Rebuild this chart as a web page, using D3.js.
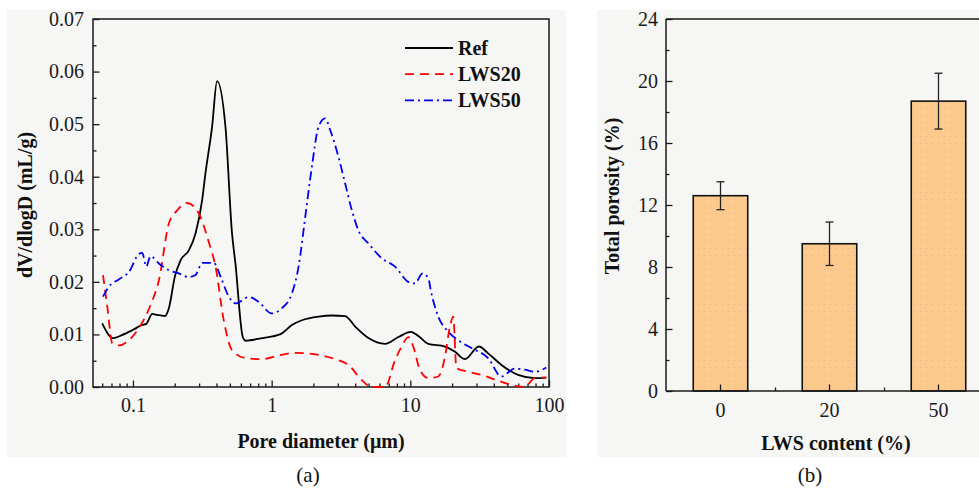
<!DOCTYPE html>
<html>
<head>
<meta charset="utf-8">
<script src="https://cdn.jsdelivr.net/npm/d3@7"></script>
<style>
  html, body { margin: 0; padding: 0; background: #ffffff; }
  svg { display: block; font-family: "Liberation Serif", "Times New Roman", serif; }
</style>
</head>
<body>
<svg id="chart" width="979" height="492"></svg>
<script>
// ---- Panel (a): pore size distribution, dV/dlogD (mL/g) vs pore diameter (µm) ----
const refDiameter = [0.060, 0.0718, 0.0838, 0.0989, 0.1167, 0.1247, 0.1377, 0.1496, 0.170, 0.1815,
  0.2005, 0.2204, 0.253, 0.2826, 0.3155, 0.333, 0.372, 0.404, 0.4645, 0.518, 0.548, 0.618, 0.647,
  0.851, 0.952, 1.186, 1.40, 1.652, 2.18, 2.716, 3.39, 4.0, 4.99, 6.57, 8.2, 10.1, 11.42, 13.47,
  17.8, 21.0, 24.8, 31.2, 36.4, 45.4, 59.8, 78.9, 95.6];
const refVolume = [0.0121, 0.0093, 0.0099, 0.0108, 0.0118, 0.0120, 0.0139, 0.0137, 0.0135, 0.0150,
  0.0210, 0.0241, 0.0260, 0.0292, 0.0356, 0.0406, 0.0495, 0.0582, 0.0495, 0.0292, 0.0235, 0.0096, 0.0088,
  0.0093, 0.0095, 0.0102, 0.0118, 0.0127, 0.0134, 0.0136, 0.0135, 0.0115, 0.0093, 0.0082, 0.0095, 0.0105, 0.0097, 0.0082,
  0.0077, 0.0067, 0.0053, 0.0077, 0.0064, 0.0042, 0.0023, 0.0017, 0.0018];

const lws20Diameter = [0.0608, 0.0653, 0.071, 0.0794, 0.0936, 0.1104, 0.134, 0.1538, 0.1815, 0.2083,
  0.246, 0.2985, 0.352, 0.394, 0.4515, 0.518, 0.647, 0.851, 1.123, 1.48, 1.95, 2.87, 3.58, 4.47,
  5.27, 6.57, 7.76, 8.66, 9.68, 10.5, 11.75, 13.47, 15.9, 17.8, 19.3, 20.4, 21.5, 26.1, 32.6, 43,
  53.6, 66.8, 78.9, 95.6];
const lws20Volume = [0.0213, 0.0153, 0.0083, 0.0079, 0.0089, 0.0112, 0.0156, 0.0203, 0.0311, 0.0336,
  0.0350, 0.0330, 0.0276, 0.0229, 0.0127, 0.0070, 0.0055, 0.0053, 0.0060, 0.0065, 0.0063, 0.0053, 0.0042, 0.0013,
  0.0000, 0.0000, 0.0051, 0.0077, 0.0095, 0.0077, 0.0032, 0.0017, 0.0020, 0.0058, 0.0115, 0.0134, 0.0036, 0.0029, 0.0023, 0.0012,
  0.0004, 0.0000, 0.0017, 0.0018];

const lws50Diameter = [0.0608, 0.0672, 0.0794, 0.0936, 0.1104, 0.1167, 0.1247, 0.134, 0.1538, 0.1815,
  0.2143, 0.253, 0.2826, 0.3155, 0.383, 0.428, 0.491, 0.548, 0.684, 0.806, 1.0, 1.186, 1.40, 1.564,
  1.748, 1.95, 2.18, 2.43, 2.64, 3.03, 3.39, 3.78, 4.22, 4.99, 6.22, 7.76, 9.68, 10.8, 12.27, 13.47,
  14.2, 15.9, 18.8, 22.1, 27.6, 36.4, 45.4, 56.6, 66.8, 78.9, 95.6];
const lws50Volume = [0.0172, 0.0191, 0.0205, 0.0219, 0.0253, 0.0255, 0.0229, 0.0249, 0.0235, 0.0222,
  0.0216, 0.0209, 0.0213, 0.0236, 0.0236, 0.0210, 0.0172, 0.0159, 0.0171, 0.0162, 0.0140, 0.0150, 0.0178, 0.0229,
  0.0324, 0.0419, 0.0495, 0.0511, 0.0489, 0.0438, 0.0387, 0.0337, 0.0298, 0.0273, 0.0245, 0.0229, 0.0200, 0.0197, 0.0216, 0.0207,
  0.0178, 0.0134, 0.0105, 0.0089, 0.0074, 0.0055, 0.0020, 0.0035, 0.0033, 0.0029, 0.0037];

const seriesNames = ["Ref", "LWS20", "LWS50"];
const diameterTicks = [0.1, 1, 10, 100];
const volumeTicks = [0, 0.01, 0.02, 0.03, 0.04, 0.05, 0.06, 0.07];

// ---- Panel (b): total porosity vs LWS content ----
const lwsContent = ["0", "20", "50"];
const porosity = [12.6, 9.5, 18.7];
const porosityError = [0.9, 1.4, 1.8];
const porosityTicks = [0, 4, 8, 12, 16, 20, 24];

// ---------------------------------------------------------------------------
const svg = d3.select("#chart");
const ink = "#1a1a1a";
const tickFont = 20;

// light panel backgrounds
svg.append("rect").attr("x", 7).attr("y", 10).attr("width", 559).attr("height", 447).attr("fill", "#f6f6f4");
svg.append("rect").attr("x", 597).attr("y", 10).attr("width", 382).attr("height", 447).attr("fill", "#f6f6f4");

// bar fill with a fine dotted texture
const defs = svg.append("defs");
const pat = defs.append("pattern").attr("id", "barFill").attr("patternUnits", "userSpaceOnUse")
  .attr("width", 6).attr("height", 7);
pat.append("rect").attr("width", 6).attr("height", 7).attr("fill", "#fdca8e");
pat.append("rect").attr("x", 2).attr("y", 3).attr("width", 1).attr("height", 1).attr("fill", "#f3a27e").attr("opacity", 0.7);

function styleAxis(g) {
  g.select(".domain").remove();
  g.selectAll(".tick line").attr("stroke", ink).attr("stroke-width", 1.3);
  g.selectAll(".tick text").attr("fill", ink).attr("font-size", tickFont)
    .attr("font-family", "Liberation Serif, Times New Roman, serif");
}

// ================= Panel (a) =================
const A = { left: 93, right: 549, top: 19, bottom: 387 };
const x = d3.scaleLog().domain([0.0515, 100]).range([A.left, A.right]);
const y = d3.scaleLinear().domain([0, 0.07]).range([A.bottom, A.top]);

const gA = svg.append("g");

// minor ticks on the log axis
const minorDiam = [];
[0.01, 0.1, 1, 10].forEach(p => { for (let k = 2; k <= 9; k++) { const v = +(k * p).toPrecision(3); if (v > 0.0515 && v < 100) minorDiam.push(v); } });
gA.append("g").attr("transform", `translate(0,${A.bottom})`)
  .call(d3.axisBottom(x).tickValues(minorDiam).tickSize(-3.5).tickFormat(""))
  .call(styleAxis);
gA.append("g").attr("transform", `translate(0,${A.bottom})`)
  .call(d3.axisBottom(x).tickValues(diameterTicks).tickSize(-6.5).tickPadding(11).tickFormat(d3.format("~g")))
  .call(styleAxis);

const minorVol = d3.range(0.005, 0.07, 0.01);
gA.append("g").attr("transform", `translate(${A.left},0)`)
  .call(d3.axisLeft(y).tickValues(minorVol).tickSize(-3.5).tickFormat(""))
  .call(styleAxis);
gA.append("g").attr("transform", `translate(${A.left},0)`)
  .call(d3.axisLeft(y).tickValues(volumeTicks).tickSize(-6.5).tickPadding(9).tickFormat(d3.format(".2f")))
  .call(styleAxis);

// frame
gA.append("rect").attr("x", A.left).attr("y", A.top).attr("width", A.right - A.left).attr("height", A.bottom - A.top)
  .attr("fill", "none").attr("stroke", ink).attr("stroke-width", 1.5);

const series = [
  { name: seriesNames[0], d: refDiameter, v: refVolume, color: "#000000", dash: null },
  { name: seriesNames[1], d: lws20Diameter, v: lws20Volume, color: "#ff0000", dash: "9,6" },
  { name: seriesNames[2], d: lws50Diameter, v: lws50Volume, color: "#0000f0", dash: "9,4,2,4" }
];

const line = d3.line().x(p => x(p[0])).y(p => y(p[1])).curve(d3.curveMonotoneX);
series.forEach(s => {
  const pts = s.d.map((dd, i) => [dd, s.v[i]]);
  gA.append("path").datum(pts).attr("d", line)
    .attr("fill", "none").attr("stroke", s.color).attr("stroke-width", 1.8)
    .attr("stroke-dasharray", s.dash).attr("stroke-linejoin", "round");
});

// legend
const leg = gA.append("g");
series.forEach((s, i) => {
  const cy = 48 + i * 26.2;
  leg.append("line").attr("x1", 405).attr("x2", 453).attr("y1", cy).attr("y2", cy)
    .attr("stroke", s.color).attr("stroke-width", 1.8).attr("stroke-dasharray", s.dash);
  leg.append("text").attr("x", 458).attr("y", cy + 7).attr("font-size", 20).attr("font-weight", "bold")
    .attr("fill", "#111").text(s.name);
});

// axis titles
gA.append("text").attr("x", 321).attr("y", 448).attr("text-anchor", "middle")
  .attr("font-size", 20).attr("font-weight", "bold").attr("fill", "#111").text("Pore diameter (μm)");
gA.append("text").attr("transform", "translate(32,205) rotate(-90)").attr("text-anchor", "middle")
  .attr("font-size", 20).attr("font-weight", "bold").attr("fill", "#111").text("dV/dlogD (mL/g)");
svg.append("text").attr("x", 308).attr("y", 482).attr("text-anchor", "middle")
  .attr("font-size", 21).attr("fill", "#111").text("(a)");

// ================= Panel (b) =================
const B = { left: 666, right: 993, top: 19, bottom: 391 };
const xb = d3.scaleBand().domain(lwsContent).range([B.left, B.right]).paddingInner(0.5).paddingOuter(0.25);
const yb = d3.scaleLinear().domain([0, 24]).range([B.bottom, B.top]);

const gB = svg.append("g");

// bars
gB.selectAll("rect.bar").data(lwsContent).join("rect").attr("class", "bar")
  .attr("x", c => xb(c)).attr("width", xb.bandwidth())
  .attr("y", (c, i) => yb(porosity[i])).attr("height", (c, i) => yb(0) - yb(porosity[i]))
  .attr("fill", "url(#barFill)").attr("stroke", "#111").attr("stroke-width", 1.6);

// error bars
lwsContent.forEach((c, i) => {
  const cx = xb(c) + xb.bandwidth() / 2;
  const hi = yb(porosity[i] + porosityError[i]), lo = yb(porosity[i] - porosityError[i]);
  gB.append("line").attr("x1", cx).attr("x2", cx).attr("y1", hi).attr("y2", lo).attr("stroke", "#222").attr("stroke-width", 1.3);
  [hi, lo].forEach(yy => gB.append("line").attr("x1", cx - 4).attr("x2", cx + 4).attr("y1", yy).attr("y2", yy)
    .attr("stroke", "#222").attr("stroke-width", 1.3));
});

// axes
const minorPor = d3.range(2, 24, 4);
gB.append("g").attr("transform", `translate(${B.left},0)`)
  .call(d3.axisLeft(yb).tickValues(minorPor).tickSize(-3.5).tickFormat(""))
  .call(styleAxis);
gB.append("g").attr("transform", `translate(${B.left},0)`)
  .call(d3.axisLeft(yb).tickValues(porosityTicks).tickSize(-6.5).tickPadding(8).tickFormat(d3.format("d")))
  .call(styleAxis);

const xbAxis = d3.axisBottom(xb).tickSize(-6.5).tickPadding(12);
gB.append("g").attr("transform", `translate(0,${B.bottom})`).call(xbAxis).call(styleAxis);
// minor ticks halfway between categories
const xbMid = d3.scaleLinear().domain([0, 1]).range([0, 1]);
const between = lwsContent.slice(1).map((c, i) => (xb(lwsContent[i]) + xb(c)) / 2 + xb.bandwidth() / 2);
gB.append("g").attr("transform", `translate(0,${B.bottom})`)
  .call(d3.axisBottom(xbMid).tickValues(between).tickSize(-3.5).tickFormat(""))
  .call(styleAxis);

// frame lines
gB.append("line").attr("x1", B.left).attr("x2", B.right).attr("y1", B.top).attr("y2", B.top).attr("stroke", ink).attr("stroke-width", 1.5);
gB.append("line").attr("x1", B.left).attr("x2", B.right).attr("y1", B.bottom).attr("y2", B.bottom).attr("stroke", ink).attr("stroke-width", 1.5);
gB.append("line").attr("x1", B.left).attr("x2", B.left).attr("y1", B.top).attr("y2", B.bottom).attr("stroke", ink).attr("stroke-width", 1.5);

gB.append("text").attr("x", 836).attr("y", 450).attr("text-anchor", "middle")
  .attr("font-size", 20).attr("font-weight", "bold").attr("fill", "#111").text("LWS content (%)");
gB.append("text").attr("transform", "translate(619,196) rotate(-90)").attr("text-anchor", "middle")
  .attr("font-size", 20).attr("font-weight", "bold").attr("fill", "#111").text("Total porosity (%)");
svg.append("text").attr("x", 810).attr("y", 482).attr("text-anchor", "middle")
  .attr("font-size", 21).attr("fill", "#111").text("(b)");
</script>
</body>
</html>
